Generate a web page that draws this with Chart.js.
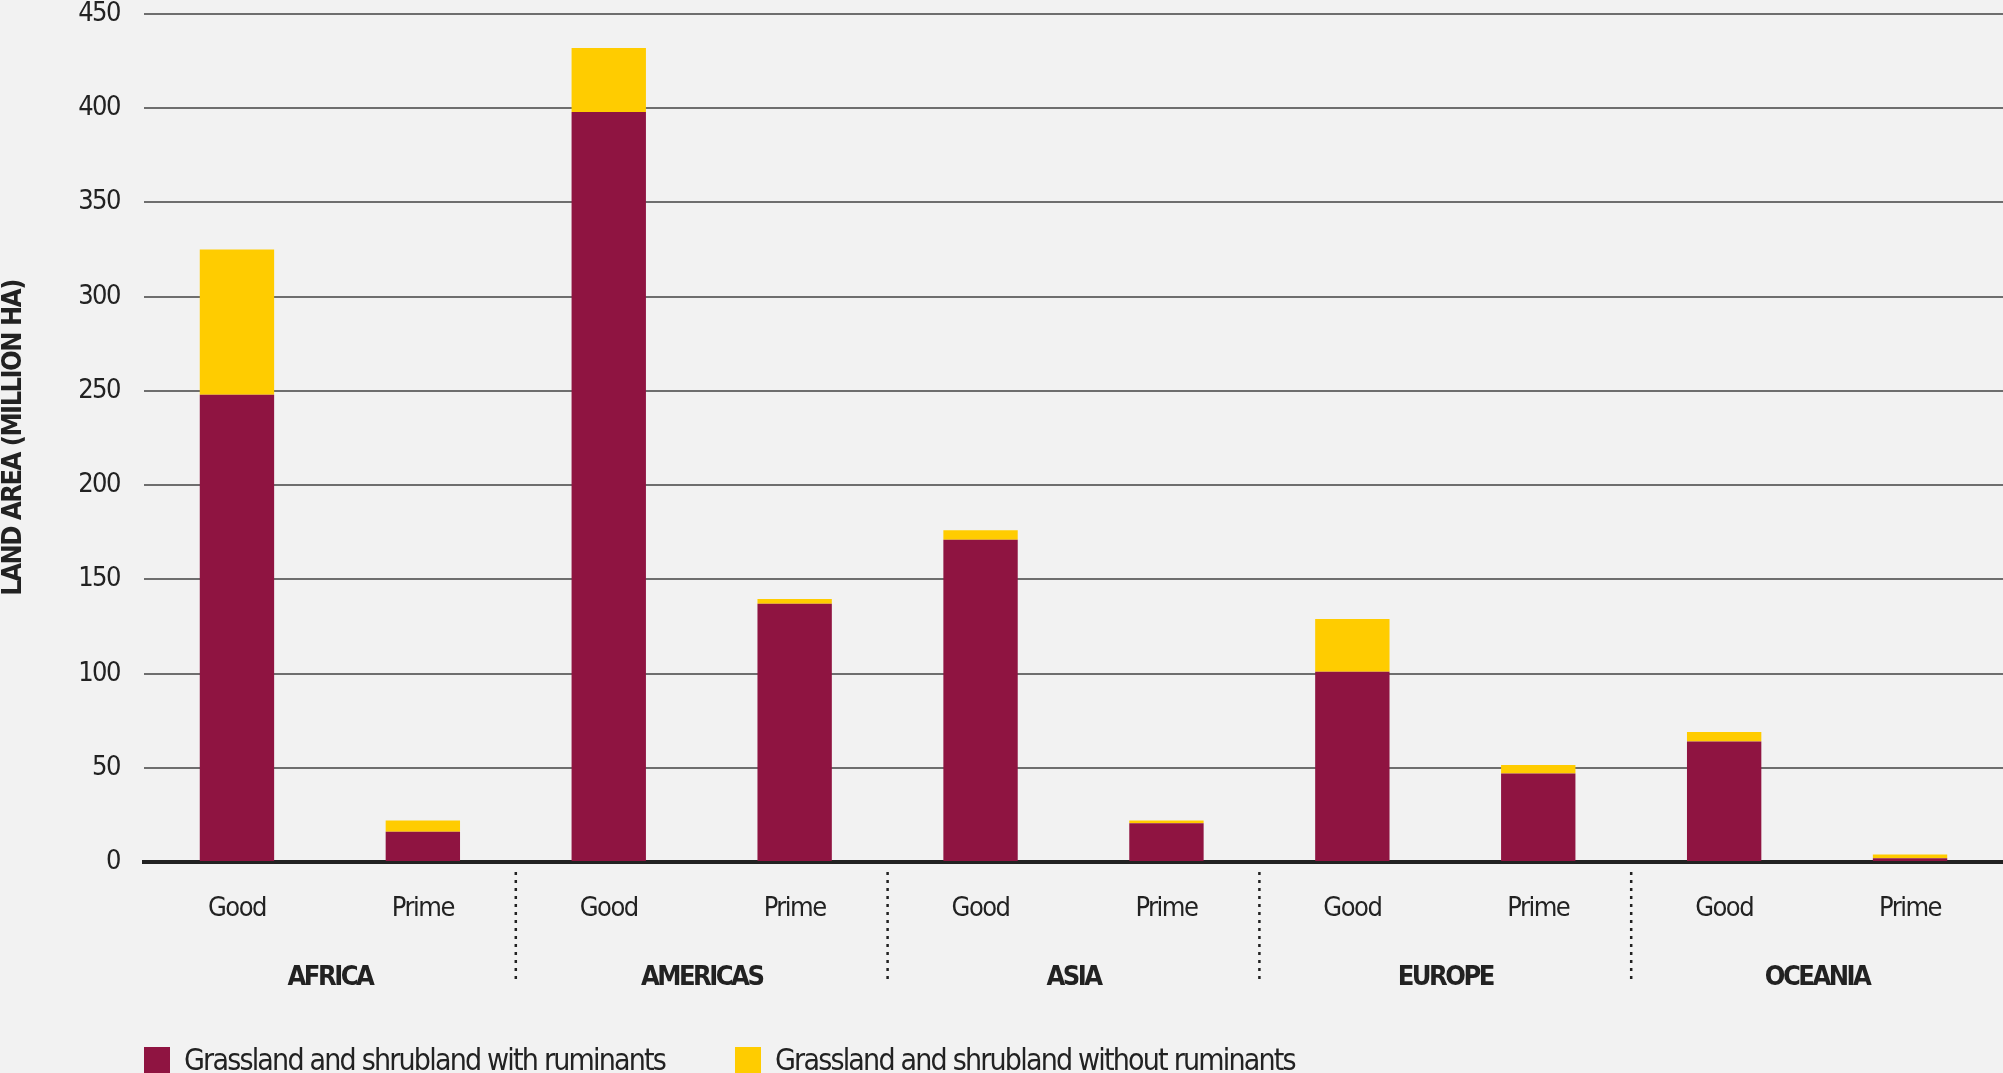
<!DOCTYPE html>
<html>
<head>
<meta charset="utf-8">
<script src="https://cdn.jsdelivr.net/npm/chart.js@4.4.1/dist/chart.umd.min.js"></script>
<style>
html, body { margin: 0; padding: 0; background: #f2f2f2; overflow: hidden; }
canvas { display: block; }
</style>
</head>
<body>
<canvas id="grafico" width="2003" height="1073"></canvas>
<script>
const regioes = ['AFRICA', 'AMERICAS', 'ASIA', 'EUROPE', 'OCEANIA'];
const tipos = ['Good', 'Prime'];
const comRuminantes = [248, 16, 398, 137, 171, 20.5, 101, 47, 64, 2];
const semRuminantes = [77, 6, 34, 2.5, 5, 1.5, 28, 4.5, 5, 2];
const ticksY = [0, 50, 100, 150, 200, 250, 300, 350, 400, 450];

const fonte = "'Liberation Sans Narrow', 'DejaVu Sans Condensed', sans-serif";
const rotulos = regioes.flatMap(() => tipos);

// fundo, nomes das regioes, separadores pontilhados e legenda
const extras = {
    id: 'extras',
    beforeDraw(chart) {
        const ctx = chart.ctx;
        ctx.fillStyle = '#f2f2f2';
        ctx.fillRect(0, 0, chart.width, chart.height);
        // a fonte original e bem estreita, aperta um pouco as letras
        ctx.letterSpacing = '-1.5px';
    },
    afterDraw(chart) {
        const ctx = chart.ctx;
        const x = chart.scales.x;
        ctx.save();
        ctx.fillStyle = '#222';
        ctx.font = `bold 27px ${fonte}`;
        ctx.letterSpacing = '-2.5px';
        ctx.textAlign = 'center';
        ctx.textBaseline = 'middle';
        regioes.forEach((r, i) => {
            const meio = (x.getPixelForValue(2 * i) + x.getPixelForValue(2 * i + 1)) / 2;
            ctx.fillText(r, meio, 978);
        });

        ctx.strokeStyle = '#222';
        ctx.lineWidth = 2.5;
        ctx.setLineDash([3, 5]);
        for (let i = 1; i < regioes.length; i++) {
            const sx = (x.getPixelForValue(2 * i - 1) + x.getPixelForValue(2 * i)) / 2;
            ctx.beginPath();
            ctx.moveTo(sx, 872);
            ctx.lineTo(sx, 982);
            ctx.stroke();
        }
        ctx.setLineDash([]);

        const itens = [{ x: 144, tx: 184 }, { x: 735, tx: 775 }];
        ctx.font = `30px ${fonte}`;
        ctx.letterSpacing = '-1.8px';
        ctx.textAlign = 'left';
        ctx.textBaseline = 'alphabetic';
        chart.data.datasets.forEach((ds, i) => {
            ctx.fillStyle = ds.backgroundColor;
            ctx.fillRect(itens[i].x, 1047, 26, 26);
            ctx.fillStyle = '#222';
            ctx.fillText(ds.label, itens[i].tx, 1070);
        });
        ctx.restore();
    }
};

new Chart(document.getElementById('grafico'), {
    type: 'bar',
    data: {
        labels: rotulos,
        datasets: [
            { label: 'Grassland and shrubland with ruminants', data: comRuminantes, backgroundColor: '#8f1441' },
            { label: 'Grassland and shrubland without ruminants', data: semRuminantes, backgroundColor: '#ffcc00' }
        ]
    },
    options: {
        responsive: false,
        devicePixelRatio: 1,
        animation: false,
        layout: { padding: { top: 14, right: 0, bottom: 0, left: 0 } },
        datasets: { bar: { barPercentage: 0.4, categoryPercentage: 1 } },
        plugins: {
            legend: { display: false },
            tooltip: { enabled: false }
        },
        scales: {
            x: {
                stacked: true,
                grid: { display: false },
                border: { color: '#222', width: 4 },
                ticks: { color: '#222', font: { family: fonte, size: 27 }, padding: 23 },
                afterFit: s => { s.height = 211; }
            },
            y: {
                stacked: true,
                min: 0,
                max: 450,
                afterBuildTicks: s => { s.ticks = ticksY.map(v => ({ value: v })); },
                grid: {
                    color: c => c.tick.value === 0 ? 'rgba(0,0,0,0)' : '#6e6e6e',
                    lineWidth: 2,
                    drawTicks: false
                },
                border: { display: false },
                ticks: { color: '#222', font: { family: fonte, size: 27, lineHeight: 1 }, padding: 24 },
                title: {
                    display: true,
                    text: 'LAND AREA (MILLION HA)',
                    color: '#222',
                    font: { family: fonte, size: 27, weight: 'bold', lineHeight: 1 },
                    padding: 0
                },
                afterFit: s => {
                    s.width = 144;
                    s.paddingTop = 0;
                    s.paddingBottom = 0;
                }
            }
        }
    },
    plugins: [extras]
});
</script>
</body>
</html>
